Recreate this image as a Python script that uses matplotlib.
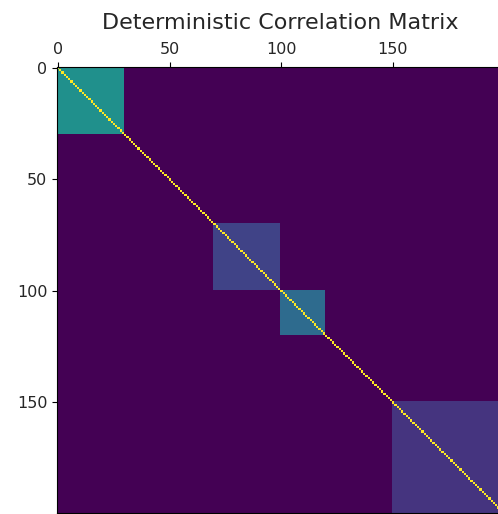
import numpy as np
import matplotlib
matplotlib.use("Agg")
import matplotlib.pyplot as plt

n = 200
# (start, stop, correlation) for each correlated block
block_starts = [0, 70, 100, 150]
block_stops = [30, 100, 120, 200]
block_values = [0.5, 0.2, 0.35, 0.15]

corr = np.zeros((n, n))
for s, e, v in zip(block_starts, block_stops, block_values):
    corr[s:e, s:e] = v
np.fill_diagonal(corr, 1.0)

fig = plt.figure(figsize=(4.98, 5.14), dpi=100)
ax = fig.add_axes([57 / 498, 1.3 / 514, 446 / 498, 446 / 514])
ax.matshow(corr, cmap="viridis", vmin=0, vmax=1)
ax.tick_params(labelsize=11.5, labelcolor="#262626")
ax.set_title("Deterministic Correlation Matrix", fontsize=16, pad=9,
             color="#262626")

fig.savefig("out.png", dpi=100)
